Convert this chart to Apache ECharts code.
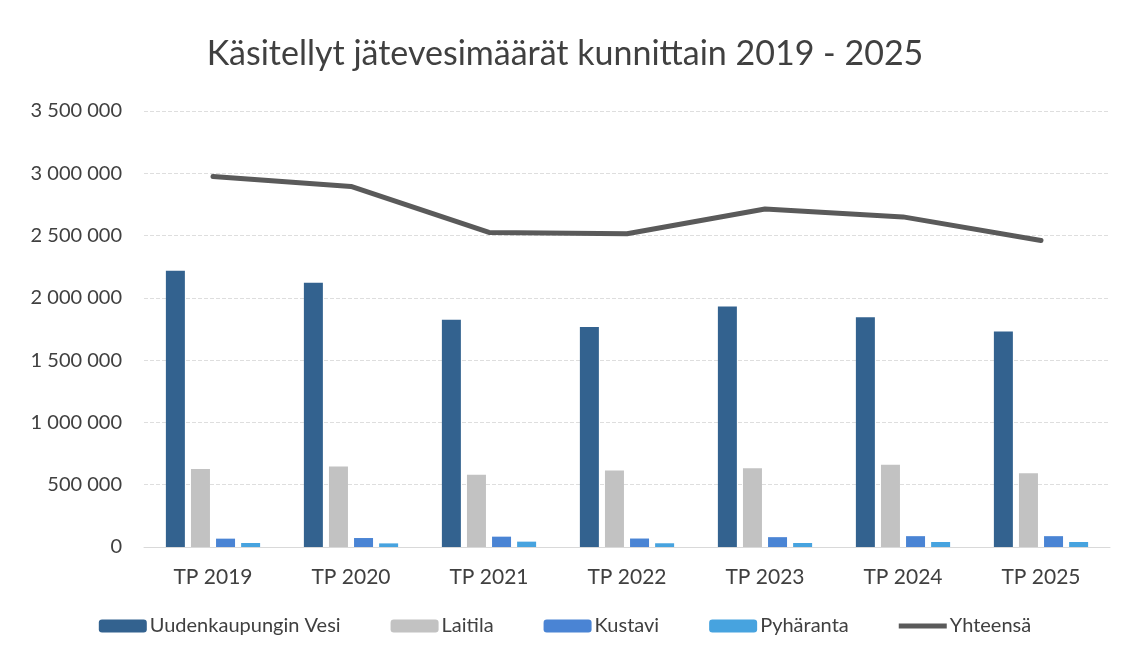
<!DOCTYPE html>
<html>
<head>
<meta charset="utf-8">
<script src="https://cdn.jsdelivr.net/npm/echarts@6/dist/echarts.min.js"></script>
<style>
  html, body { margin: 0; padding: 0; background: #fff; }
  #chart { width: 1130px; height: 659px; }
</style>
</head>
<body>
<div id="chart"></div>
<script>
var years = ['TP 2019', 'TP 2020', 'TP 2021', 'TP 2022', 'TP 2023', 'TP 2024', 'TP 2025']
var uusikaupunki = [2218000, 2121000, 1824000, 1766000, 1930000, 1845000, 1730000]
var laitila = [626000, 647000, 580000, 615000, 632000, 660000, 592000]
var kustavi = [67000, 72000, 83000, 68000, 79000, 87000, 87000]
var pyharanta = [32000, 29000, 43000, 30000, 32000, 40000, 40000]
var yhteensa = [2975000, 2894000, 2525000, 2515000, 2713000, 2650000, 2460000]

var font = 'Lato, "Open Sans", sans-serif'

// thin line icon for the total, tiny corner dots keep the box 48x13
var lineIcon = 'path://M0,0 L0.01,0 L0.01,0.01 Z M0,4 L48,4 L48,9 L0,9 Z M47.99,12.99 L48,13 L47.99,13 Z'

function fmt (v) {
  return String(v).replace(/\B(?=(\d{3})+(?!\d))/g, ' ')
}

function barSeries (name, data, color) {
  return {
    name: name,
    type: 'bar',
    data: data,
    barWidth: 19,
    barGap: '32%',
    itemStyle: { color: color },
    emphasis: { disabled: true }
  }
}

var myChart = echarts.init(document.getElementById('chart'))
myChart.setOption({
  animation: false,
  title: {
    text: 'Käsitellyt jätevesimäärät kunnittain 2019 - 2025',
    left: 'center',
    top: 32,
    textStyle: {
      fontFamily: font,
      fontWeight: 'normal',
      fontSize: 34,
      color: '#404040'
    }
  },
  grid: {
    left: 144,
    right: 20,
    top: 111,
    bottom: 112
  },
  legend: {
    bottom: 18,
    left: 'center',
    itemWidth: 48,
    itemHeight: 13,
    itemGap: 50,
    textStyle: {
      fontFamily: font,
      fontSize: 20,
      color: '#404040',
      padding: [0, 0, 0, -2]
    },
    data: ['Uudenkaupungin Vesi', 'Laitila', 'Kustavi', 'Pyhäranta', { name: 'Yhteensä', icon: lineIcon }]
  },
  xAxis: {
    type: 'category',
    data: years,
    axisTick: { show: false },
    axisLine: { lineStyle: { color: '#d9d9d9' } },
    axisLabel: {
      fontFamily: font,
      fontSize: 21,
      color: '#404040',
      margin: 20
    }
  },
  yAxis: {
    type: 'value',
    min: 0,
    max: 3500000,
    interval: 500000,
    axisLine: { show: false },
    axisTick: { show: false },
    splitLine: { lineStyle: { color: '#dedede', type: 'dashed' } },
    axisLabel: {
      fontFamily: font,
      fontSize: 20,
      color: '#404040',
      margin: 22,
      formatter: fmt
    }
  },
  series: [
    barSeries('Uudenkaupungin Vesi', uusikaupunki, '#33628f'),
    barSeries('Laitila', laitila, '#c2c2c2'),
    barSeries('Kustavi', kustavi, '#4a84d4'),
    barSeries('Pyhäranta', pyharanta, '#47a3df'),
    {
      name: 'Yhteensä',
      type: 'line',
      data: yhteensa,
      symbol: 'none',
      lineStyle: { width: 5, color: '#5a5a5a', cap: 'round' },
      itemStyle: { color: '#5a5a5a' },
      emphasis: { disabled: true }
    }
  ]
})
</script>
</body>
</html>
